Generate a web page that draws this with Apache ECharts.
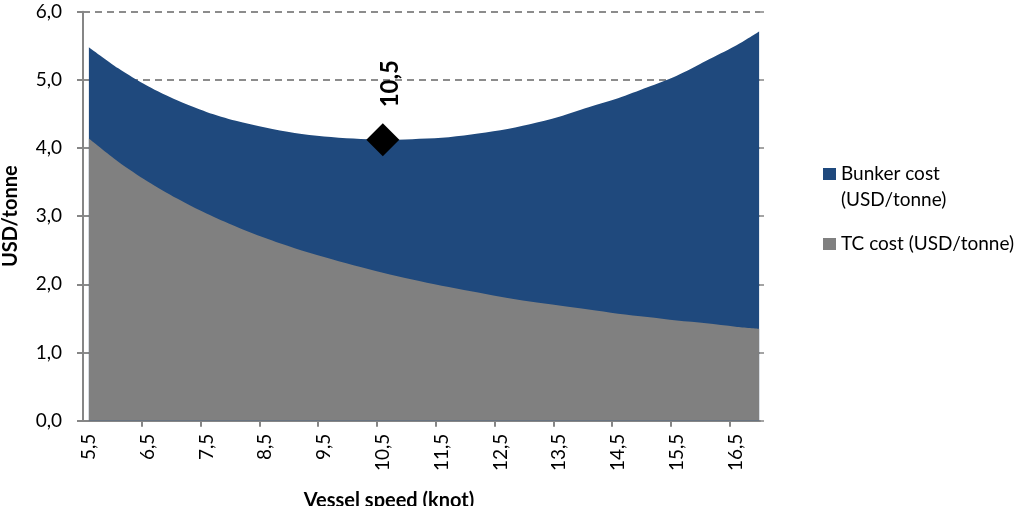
<!DOCTYPE html>
<html>
<head>
<meta charset="utf-8">
<script src="https://cdn.jsdelivr.net/npm/echarts@6/dist/echarts.min.js"></script>
<style>
html,body{margin:0;padding:0;background:#fff;}
#chart{width:1016px;height:506px;}
</style>
</head>
<body>
<div id="chart"></div>
<script>
// Vessel speed (knot) at which values were read
var speeds = [5.5, 6.0, 6.5, 7.0, 7.5, 8.0, 8.5, 9.0, 9.5, 10.0, 10.5, 11.0, 11.5, 12.0, 12.5, 13.0, 13.5, 14.0, 14.5, 15.0, 15.5, 16.0, 16.5, 16.9];
// TC cost (USD/tonne) - bottom (grey) layer
var tcCost = [4.14, 3.80, 3.51, 3.26, 3.04, 2.85, 2.68, 2.53, 2.40, 2.28, 2.17, 2.07, 1.98, 1.90, 1.82, 1.75, 1.69, 1.63, 1.57, 1.52, 1.47, 1.43, 1.38, 1.35];
// Bunker cost (USD/tonne) - stacked (blue) layer
var bunkerCost = [1.34, 1.37, 1.40, 1.44, 1.49, 1.55, 1.62, 1.69, 1.77, 1.86, 1.95, 2.06, 2.17, 2.30, 2.44, 2.60, 2.77, 2.97, 3.16, 3.37, 3.59, 3.85, 4.12, 4.36];
// x tick labels
var xTickLabels = [5.5, 6.5, 7.5, 8.5, 9.5, 10.5, 11.5, 12.5, 13.5, 14.5, 15.5, 16.5];
// category boundary tick marks
var xTickMarks = [6.4, 7.4, 8.4, 9.4, 10.4, 11.4, 12.4, 13.4, 14.4, 15.4, 16.4];
// optimum marker
var optimumSpeed = 10.5;
var optimumCost = 4.12;

var names = ['Bunker cost (USD/tonne)', 'TC cost (USD/tonne)'];

function fmt(v) { return Number(v).toFixed(1).replace('.', ','); }
// stacked top = TC + Bunker (stacking done here, drawn via the library's scales)
var stackedTop = speeds.map(function (x, i) { return [x, +(tcCost[i] + bunkerCost[i]).toFixed(3)]; });
var tcPairs = speeds.map(function (x, i) { return [x, tcCost[i]]; });

var FONT = 'Lato';
var AXIS_GREY = '#868686';

var chart = echarts.init(document.getElementById('chart'), null, {renderer: 'canvas'});
chart.setOption({
  animation: false,
  backgroundColor: '#ffffff',
  textStyle: {fontFamily: FONT},
  grid: {left: 83, right: 256, top: 11.7, bottom: 85.3, containLabel: false, outerBoundsMode: 'none'},
  legend: [{
    orient: 'vertical',
    left: 823,
    top: 135,
    padding: 0,
    itemWidth: 13,
    itemHeight: 12,
    icon: 'rect',
    selectedMode: false,
    data: [names[0]],
    formatter: function (n) { return '\n' + n.replace(' (', '\n('); },
    textStyle: {fontFamily: FONT, fontSize: 19, color: '#000', lineHeight: 26}
  }, {
    orient: 'vertical',
    left: 823,
    top: 231,
    padding: 0,
    itemWidth: 13,
    itemHeight: 12,
    icon: 'rect',
    selectedMode: false,
    data: [names[1]],
    textStyle: {fontFamily: FONT, fontSize: 19, color: '#000', lineHeight: 26}
  }],
  xAxis: {
    type: 'value',
    min: 5.4,
    max: 16.915,
    name: 'Vessel speed (knot)',
    nameLocation: 'middle',
    nameGap: 70,
    nameTextStyle: {fontFamily: FONT, fontSize: 20, fontWeight: 'bold', color: '#000', padding: [0, 65, 0, 0]},
    axisLine: {show: true, onZero: false, lineStyle: {color: AXIS_GREY, width: 2}},
    axisTick: {show: true, customValues: xTickMarks, length: 6, lineStyle: {color: AXIS_GREY, width: 2}},
    axisLabel: {
      customValues: xTickLabels,
      rotate: 90,
      margin: 13,
      fontFamily: FONT,
      fontSize: 19,
      color: '#000',
      formatter: function (v) { return fmt(v); }
    },
    splitLine: {show: false}
  },
  yAxis: [{
    type: 'value',
    min: 0,
    max: 6,
    interval: 1,
    name: 'USD/tonne',
    nameLocation: 'middle',
    nameRotate: 90,
    nameGap: 62,
    nameTextStyle: {fontFamily: FONT, fontSize: 20, fontWeight: 'bold', color: '#000'},
    axisLine: {show: true, lineStyle: {color: AXIS_GREY, width: 2}},
    axisTick: {show: true, length: 6, lineStyle: {color: AXIS_GREY, width: 2}},
    axisLabel: {margin: 21, fontFamily: FONT, fontSize: 19, color: '#000', formatter: function (v) { return fmt(v); }},
    splitLine: {show: true, lineStyle: {color: '#8c8c8c', width: 2, type: [7, 5]}}
  }, {
    type: 'value',
    position: 'right',
    min: 0,
    max: 6,
    interval: 1,
    axisLine: {show: false},
    axisTick: {show: true, length: 4, lineStyle: {color: AXIS_GREY, width: 1.5}},
    axisLabel: {show: false},
    splitLine: {show: false}
  }],
  series: [{
    name: names[0],
    type: 'line',
    smooth: 0.3,
    showSymbol: false,
    symbol: 'none',
    lineStyle: {width: 0},
    itemStyle: {color: '#1F497D'},
    areaStyle: {color: '#1F497D', opacity: 1},
    data: stackedTop,
    z: 2
  }, {
    name: names[1],
    type: 'line',
    smooth: 0.3,
    showSymbol: false,
    symbol: 'none',
    lineStyle: {width: 0},
    itemStyle: {color: '#808080'},
    areaStyle: {color: '#808080', opacity: 1},
    data: tcPairs,
    z: 3
  }, {
    name: 'Optimum',
    type: 'scatter',
    symbol: 'diamond',
    symbolSize: 33,
    itemStyle: {color: '#000', opacity: 1},
    data: [[optimumSpeed, optimumCost]],
    z: 5,
    label: {
      show: true,
      position: [24, -16],
      rotate: 90,
      align: 'left',
      verticalAlign: 'middle',
      fontFamily: FONT,
      fontSize: 24,
      fontWeight: 'bold',
      color: '#000',
      formatter: function (p) { return fmt(p.value[0]); }
    }
  }]
});
</script>
</body>
</html>
